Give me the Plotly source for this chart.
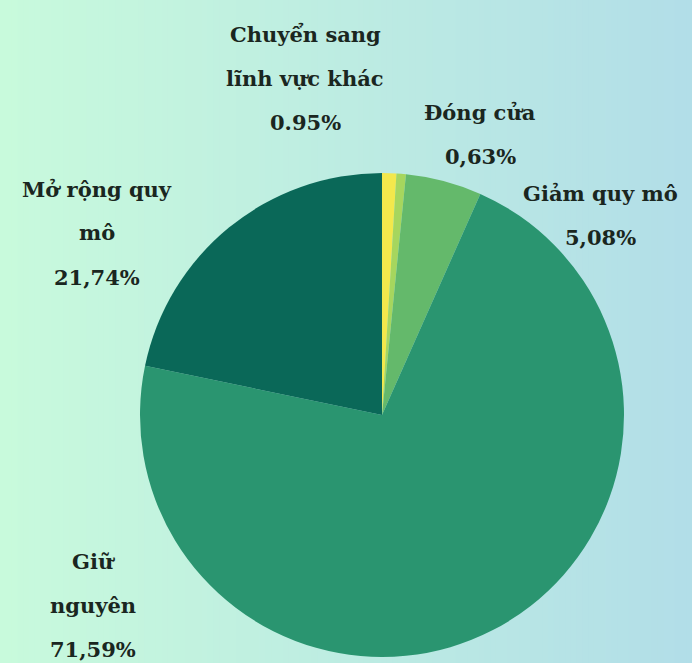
import plotly.graph_objects as go

# Business plans survey: share of respondents per plan
categories = ["Chuyển sang lĩnh vực khác", "Đóng cửa", "Giảm quy mô", "Giữ nguyên", "Mở rộng quy mô"]
shares = [0.95, 0.63, 5.08, 71.59, 21.74]
value_labels = ["0.95%", "0,63%", "5,08%", "71,59%", "21,74%"]
label_lines = [
    ["Chuyển sang", "lĩnh vực khác"],
    ["Đóng cửa"],
    ["Giảm quy mô"],
    ["Giữ", "nguyên"],
    ["Mở rộng quy", "mô"],
]
slice_colors = ["#f3e84c", "#a6d65e", "#64b96b", "#2a9570", "#0a6858"]

W, H = 692, 663

# label block anchors (x centre, y of first line) in pixels
label_anchor = [(305, 34), (480, 112), (600, 193), (93, 561), (97, 189)]
line_gap = 44

fig = go.Figure()

fig.add_trace(go.Pie(
    labels=categories,
    values=shares,
    sort=False,
    direction="clockwise",
    rotation=0,
    marker=dict(colors=slice_colors, line=dict(width=0)),
    textinfo="none",
    hoverinfo="label+percent",
    showlegend=False,
    domain=dict(x=[140 / W, 624 / W], y=[6 / H, 490 / H]),
))


def px(x, y):
    return x / W, 1 - y / H


annotations = []
for lines, val, (cx, cy) in zip(label_lines, value_labels, label_anchor):
    for i, t in enumerate(lines + [val]):
        ax, ay = px(cx, cy + i * line_gap)
        annotations.append(dict(
            x=ax, y=ay, xref="paper", yref="paper",
            text=f"<b>{t}</b>", showarrow=False,
            xanchor="center", yanchor="middle",
            font=dict(family="DejaVu Serif", size=21, color="#1a2620"),
        ))

# horizontal mint-to-blue background gradient
shapes = []
n = 120
c0 = (200, 250, 220)
c1 = (178, 222, 232)
for k in range(n):
    t = k / (n - 1)
    col = tuple(round(a + (b - a) * t) for a, b in zip(c0, c1))
    shapes.append(dict(
        type="rect", xref="paper", yref="paper",
        x0=k / n, x1=(k + 1) / n + 0.002, y0=0, y1=1,
        fillcolor=f"rgb{col}", line=dict(width=0), layer="below",
    ))

fig.update_layout(
    width=W, height=H,
    margin=dict(l=0, r=0, t=0, b=0),
    paper_bgcolor="#c8fadc",
    plot_bgcolor="rgba(0,0,0,0)",
    shapes=shapes,
    annotations=annotations,
)

fig.write_html("out.html")
